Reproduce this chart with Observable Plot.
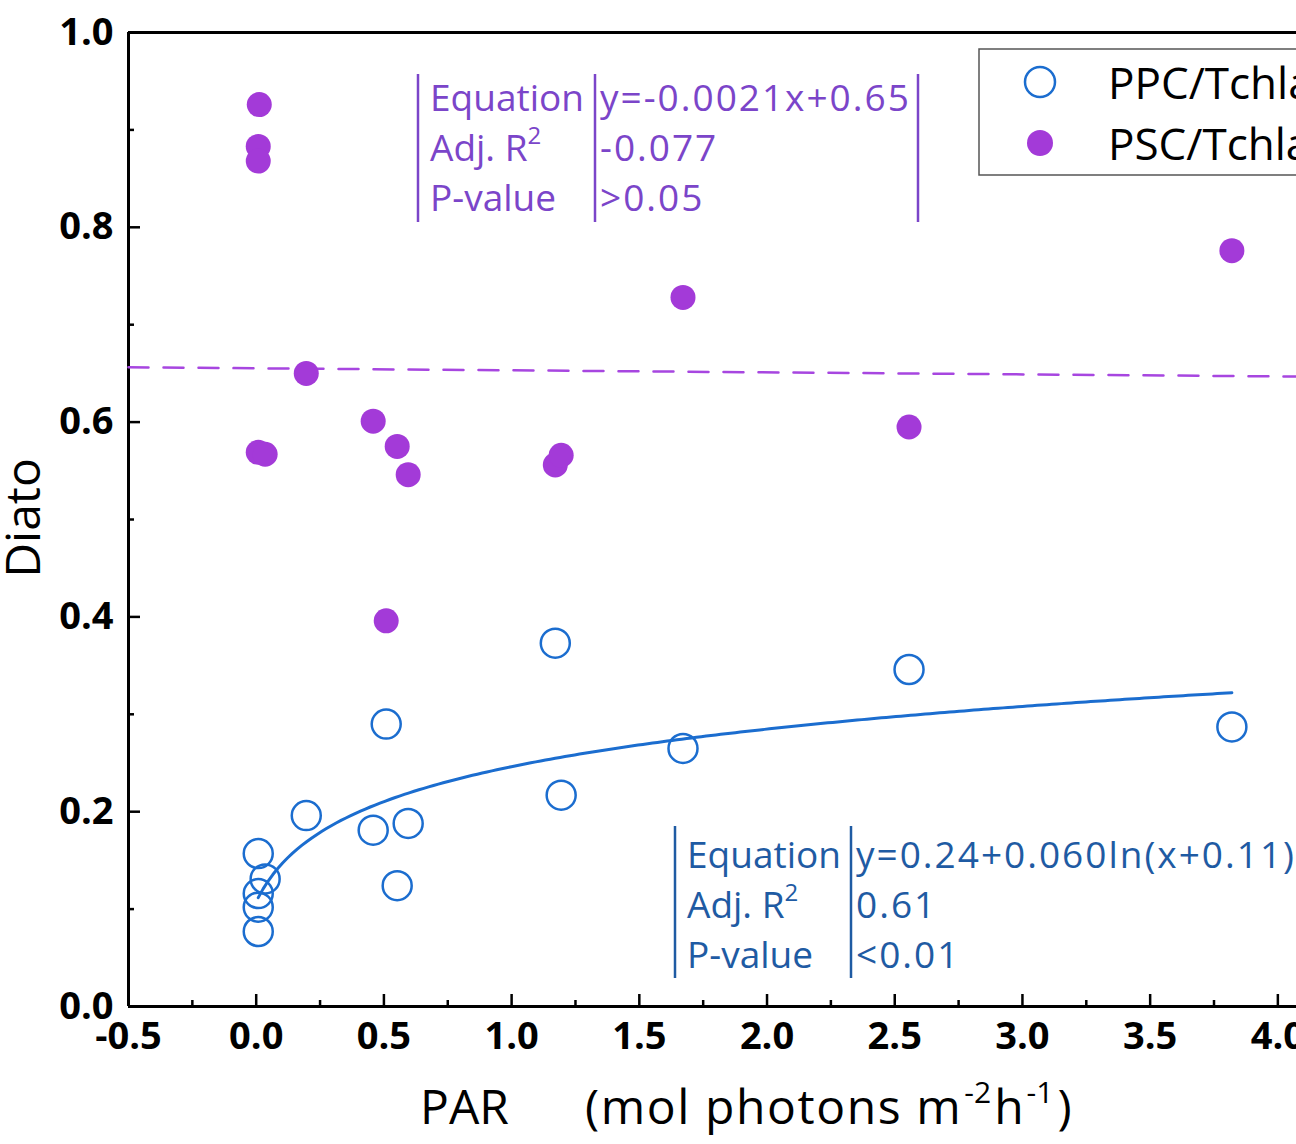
<!DOCTYPE html>
<html><head><meta charset="utf-8">
<script src="https://cdn.jsdelivr.net/npm/d3@7"></script>
<script src="https://cdn.jsdelivr.net/npm/@observablehq/plot@0.6"></script>
<style>
html,body{margin:0;padding:0;background:#fff;overflow:hidden;}
#chart{position:relative;width:1296px;height:1144px;overflow:hidden;}
#chart svg{overflow:hidden;max-width:none;}
</style></head><body><div id="chart"></div>
<script>
// ---- data ----
const pscX = [0.012,0.008,0.008,0.196,0.008,0.035,0.458,0.552,0.595,0.509,1.171,1.194,1.671,2.556,3.820];
const pscY = [0.926,0.883,0.868,0.650,0.569,0.567,0.601,0.575,0.546,0.396,0.556,0.566,0.728,0.595,0.776];
const ppcX = [0.008,0.035,0.008,0.008,0.008,0.196,0.458,0.595,0.552,0.509,1.171,1.194,1.671,2.556,3.820];
const ppcY = [0.157,0.131,0.116,0.102,0.077,0.196,0.181,0.188,0.124,0.290,0.373,0.217,0.265,0.346,0.287];
const seriesNames = ["PPC/Tchla","PSC/Tchla"];
// fitted curve y = a + b ln(x + c) as printed on the chart
const logFitCoef = [0.24, 0.060, 0.11];
const xTicks = [-0.5,0,0.5,1,1.5,2,2.5,3,3.5,4];
const xMinor = [-0.25,0.25,0.75,1.25,1.75,2.25,2.75,3.25,3.75];
const yTicks = [0,0.2,0.4,0.6,0.8,1.0];
const yMinor = [0.1,0.3,0.5,0.7,0.9];
const pscStats = [["Equation","y=-0.0021x+0.65"],["Adj. R","-0.077"],["P-value",">0.05"]];
const ppcStats = [["Equation","y=0.24+0.060ln(x+0.11)"],["Adj. R","0.61"],["P-value","<0.01"]];

// ---- layout ----
const W = 1296, H = 1144, mL = 128, mR = 0, mT = 32, mB = 138;
const xDom = [-0.5, 4.073], yDom = [0, 1];
const pxX = (W - mL - mR) / (xDom[1] - xDom[0]);
const pxY = (H - mT - mB) / (yDom[1] - yDom[0]);

const PURPLE = "#a33ad8", PURPLE_LINE = "#a746e0", PURPLE_TEXT = "#7b45c9";
const BLUE = "#1b6dcf", BLUE_TEXT = "#1f5ba3";
const FONT = "'Open Sans', 'Noto Sans', sans-serif";

const psc = pscX.map((x, i) => ({x, y: pscY[i]}));
const ppc = ppcX.map((x, i) => ({x, y: ppcY[i]}));

// least-squares line through PSC
const mx = d3.mean(pscX), my = d3.mean(pscY);
const slope = d3.sum(pscX, (x, i) => (x - mx) * (pscY[i] - my)) / d3.sum(pscX, x => (x - mx) ** 2);
const icpt = my - slope * mx;
const regLine = xDom.map(x => ({x, y: icpt + slope * x}));

// log fit curve over PPC x extent
const [fx0, fx1] = d3.extent(ppcX);
const fitCurve = d3.range(0, 201).map(i => {
  const x = fx0 + (fx1 - fx0) * i / 200;
  return {x, y: logFitCoef[0] + logFitCoef[1] * Math.log(x + logFitCoef[2])};
});

const chart = Plot.plot({
  width: W, height: H,
  marginLeft: mL, marginRight: mR, marginTop: mT, marginBottom: mB,
  x: {domain: xDom}, y: {domain: yDom},
  style: {fontFamily: FONT, background: "white", color: "black"},
  marks: [
    Plot.axisX({ticks: xTicks, tickSize: 0, tickPadding: 16, tickFormat: d => d.toFixed(1),
      fontSize: 38, fontWeight: "bold", label: null}),
    Plot.axisY({ticks: yTicks, tickSize: 0, tickPadding: 15, tickFormat: d => d.toFixed(1),
      fontSize: 38, fontWeight: "bold", label: null}),
    // inward ticks
    Plot.ruleX(xTicks, {x: d => d, y1: 0, y2: 12 / pxY, strokeWidth: 2.5, stroke: "black"}),
    Plot.ruleX(xMinor, {x: d => d, y1: 0, y2: 6 / pxY, strokeWidth: 2.5, stroke: "black"}),
    Plot.ruleY(yTicks, {y: d => d, x1: xDom[0], x2: xDom[0] + 12 / pxX, strokeWidth: 2.5, stroke: "black"}),
    Plot.ruleY(yMinor, {y: d => d, x1: xDom[0], x2: xDom[0] + 6 / pxX, strokeWidth: 2.5, stroke: "black"}),
    // frame
    Plot.ruleX([xDom[0]], {strokeWidth: 3, stroke: "black"}),
    Plot.ruleY([yDom[0], yDom[1]], {strokeWidth: 3, stroke: "black"}),
    // fits
    Plot.line(regLine, {x: "x", y: "y", stroke: PURPLE_LINE, strokeWidth: 2.5, strokeDasharray: "20,15"}),
    Plot.line(fitCurve, {x: "x", y: "y", stroke: BLUE, strokeWidth: 3, curve: "linear"}),
    // points
    Plot.dot(ppc, {x: "x", y: "y", r: 14.5, stroke: BLUE, strokeWidth: 2.5, fill: "none"}),
    Plot.dot(psc, {x: "x", y: "y", r: 12.5, fill: PURPLE, stroke: "none"})
  ]
});
document.getElementById("chart").appendChild(chart);

const svg = d3.select(chart);
const ann = svg.append("g").attr("font-family", FONT).attr("text-anchor", "start");

// Y title
ann.append("text").attr("transform", "translate(40,518) rotate(-90)")
  .attr("text-anchor", "middle").attr("font-size", 48).attr("fill", "black").text("Diato");

// X title
const xt = ann.append("text").attr("font-size", 48).attr("fill", "black").attr("y", 1124);
xt.append("tspan").attr("x", 420).text("PAR");
xt.append("tspan").attr("x", 585).attr("letter-spacing", 1.6).text("(mol photons m");
xt.append("tspan").attr("font-size", 30).attr("dy", -21).attr("dx", 2).text("-2");
xt.append("tspan").attr("font-size", 48).attr("dy", 21).attr("dx", 3).text("h");
xt.append("tspan").attr("font-size", 30).attr("dy", -21).attr("dx", 3).text("-1");
xt.append("tspan").attr("font-size", 48).attr("dy", 21).attr("dx", 4).text(")");

// stats tables
function statsTable(rows, color, bars, yTop, yBot, col1, col2, base0) {
  const g = ann.append("g");
  bars.forEach(bx => g.append("line").attr("x1", bx).attr("x2", bx).attr("y1", yTop).attr("y2", yBot)
    .attr("stroke", color).attr("stroke-width", 2.5));
  rows.forEach((r, i) => {
    const y = base0 + i * 50;
    const t = g.append("text").attr("x", col1).attr("y", y).attr("font-size", 37).attr("fill", color);
    t.append("tspan").text(r[0]);
    if (r[0].startsWith("Adj")) {
      t.append("tspan").attr("font-size", 24).attr("dy", -17).text("2");
    }
    g.append("text").attr("x", col2).attr("y", y).attr("font-size", 37).attr("letter-spacing", 2.0)
      .attr("fill", color).text(r[1]);
  });
}
statsTable(pscStats, PURPLE_TEXT, [418, 595, 918], 74, 222, 430, 600, 111);
statsTable(ppcStats, BLUE_TEXT, [675, 851], 826, 978, 687, 856, 868);

// legend (box runs off the right edge like the reference)
const lg = ann.append("g");
lg.append("rect").attr("x", 979).attr("y", 49).attr("width", 400).attr("height", 126)
  .attr("fill", "white").attr("stroke", "#555").attr("stroke-width", 1.5);
lg.append("circle").attr("cx", 1040).attr("cy", 82).attr("r", 15).attr("fill", "none")
  .attr("stroke", BLUE).attr("stroke-width", 2.5);
lg.append("circle").attr("cx", 1040).attr("cy", 143).attr("r", 13).attr("fill", PURPLE);
lg.append("text").attr("x", 1108).attr("y", 99).attr("font-size", 44).attr("fill", "black").text(seriesNames[0]);
lg.append("text").attr("x", 1108).attr("y", 160).attr("font-size", 44).attr("fill", "black").text(seriesNames[1]);
</script></body></html>
